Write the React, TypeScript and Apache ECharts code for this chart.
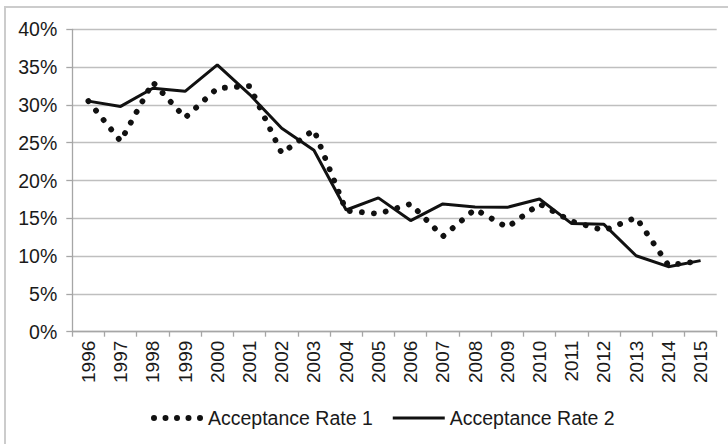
import React, { useEffect, useRef } from "react";
import * as echarts from "echarts";

const years = ["1996", "1997", "1998", "1999", "2000", "2001", "2002", "2003", "2004", "2005", "2006", "2007", "2008", "2009", "2010", "2011", "2012", "2013", "2014", "2015"];
const rate1 = [30.5, 25.2, 33.0, 28.3, 32.2, 32.5, 23.6, 26.7, 16.0, 15.6, 16.9, 12.6, 16.2, 13.8, 16.9, 14.6, 13.4, 15.1, 8.8, 9.35];
const rate2 = [30.5, 29.8, 32.2, 31.8, 35.3, 31.4, 26.9, 24.0, 16.1, 17.7, 14.7, 16.9, 16.5, 16.45, 17.55, 14.3, 14.2, 10.05, 8.6, 9.4];
const seriesNames = ["Acceptance Rate 1", "Acceptance Rate 2"];

const FONT = "'Liberation Sans', Arial, sans-serif";

// legend icons (aspect 52:6 and 52:3)
const dotsIcon =
  "path://M0,3a3,3 0 1,0 6,0a3,3 0 1,0 -6,0Z" +
  "M11.5,3a3,3 0 1,0 6,0a3,3 0 1,0 -6,0Z" +
  "M23,3a3,3 0 1,0 6,0a3,3 0 1,0 -6,0Z" +
  "M34.5,3a3,3 0 1,0 6,0a3,3 0 1,0 -6,0Z" +
  "M46,3a3,3 0 1,0 6,0a3,3 0 1,0 -6,0Z";
const lineIcon = "path://M0,0H52V3H0Z";

export default function App() {
  const ref = useRef<HTMLDivElement>(null);
  useEffect(() => {
    document.body.style.margin = "0";
    const chart = echarts.init(ref.current!, null, { renderer: "svg" });
    chart.setOption({
      animation: false,
      backgroundColor: "#ffffff",
      textStyle: { fontFamily: FONT },
      graphic: [
        {
          type: "rect",
          shape: { x: 5, y: 7, width: 740, height: 460 },
          style: { fill: "none", stroke: "#cccccc", lineWidth: 2 },
          silent: true,
        },
      ],
      grid: { left: 72.3, right: 11.3, top: 29.3, bottom: 112.3, containLabel: false },
      xAxis: {
        type: "category",
        data: years,
        boundaryGap: true,
        axisLine: { show: true, lineStyle: { color: "#a6a6a6", width: 1.3 } },
        axisTick: { show: true, length: 5, alignWithLabel: false, lineStyle: { color: "#a6a6a6", width: 1.3 } },
        axisLabel: { rotate: 90, margin: 9, fontSize: 19, color: "#1a1a1a", fontFamily: FONT, interval: 0 },
        splitLine: { show: false },
      },
      yAxis: {
        type: "value",
        min: 0,
        max: 40,
        interval: 5,
        axisLine: { show: true, lineStyle: { color: "#a6a6a6", width: 1.3 } },
        axisTick: { show: true, length: 6, lineStyle: { color: "#a6a6a6", width: 1.3 } },
        axisLabel: { formatter: "{value}%", margin: 15, fontSize: 19.5, color: "#1a1a1a", fontFamily: FONT },
        splitLine: { show: true, lineStyle: { color: "#bfbfbf", width: 1.3 } },
      },
      legend: {
        left: 146,
        top: 403,
        itemWidth: 52,
        itemHeight: 6,
        itemGap: 20,
        symbolKeepAspect: true,
        textStyle: { fontSize: 19.5, color: "#1a1a1a", fontFamily: FONT },
        data: [
          { name: seriesNames[0], icon: dotsIcon, itemStyle: { color: "#111111", borderWidth: 0 } },
          { name: seriesNames[1], icon: lineIcon, itemStyle: { color: "#111111", borderWidth: 0 } },
        ],
      },
      series: [
        {
          name: seriesNames[0],
          type: "line",
          data: rate1,
          symbol: "none",
          lineStyle: { color: "#111111", width: 5.8, type: [0.1, 12], cap: "round", join: "round" },
          itemStyle: { color: "#111111" },
          z: 2,
        },
        {
          name: seriesNames[1],
          type: "line",
          data: rate2,
          symbol: "none",
          lineStyle: { color: "#111111", width: 3 },
          itemStyle: { color: "#111111" },
          z: 3,
        },
      ],
    });
    return () => chart.dispose();
  }, []);
  return <div ref={ref} style={{ width: 728, height: 444 }} />;
}
